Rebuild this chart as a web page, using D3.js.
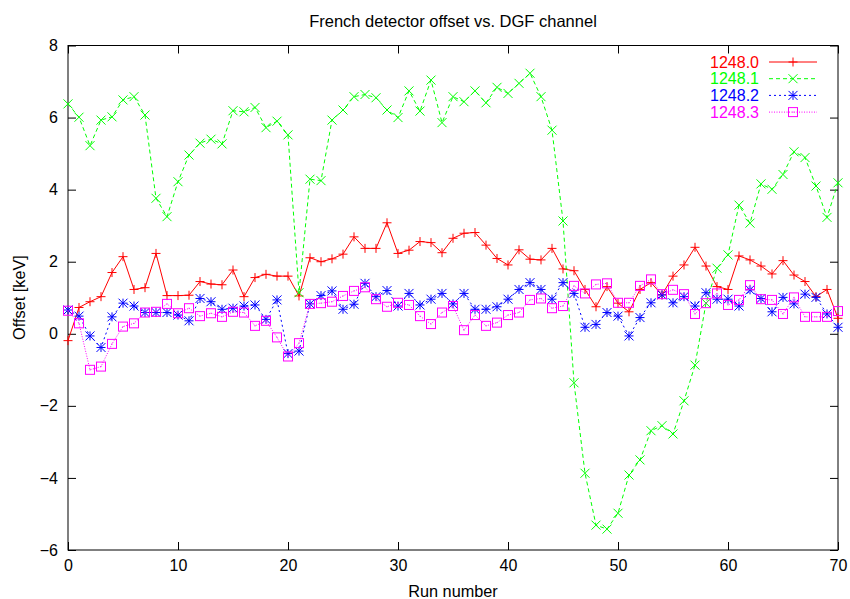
<!DOCTYPE html>
<html><head><meta charset="utf-8">
<script src="https://cdn.jsdelivr.net/npm/d3@7/dist/d3.min.js"></script>
<style>body{margin:0;background:#fff}svg{display:block}text{font-family:"Liberation Sans",Arial,Helvetica,sans-serif}</style>
</head><body>
<svg id="c" width="850" height="599"></svg>
<script>
const runs = d3.range(0, 71);
const seriesNames = ["1248.0", "1248.1", "1248.2", "1248.3"];
const s0 = [-0.19,0.73,0.89,1.03,1.70,2.14,1.23,1.28,2.23,1.06,1.06,1.07,1.45,1.38,1.36,1.77,1.03,1.56,1.65,1.60,1.60,1.05,2.11,2.00,2.08,2.21,2.69,2.37,2.37,3.08,2.23,2.32,2.56,2.53,2.25,2.65,2.79,2.81,2.46,2.09,1.91,2.33,2.07,2.05,2.37,1.80,1.75,1.23,0.75,1.31,0.85,0.61,1.23,1.42,1.08,1.60,1.91,2.40,1.88,1.31,1.23,2.16,2.05,1.88,1.66,2.03,1.63,1.45,1.03,1.23,0.43];
const s1 = [6.38,6.01,5.22,5.93,6.02,6.49,6.58,6.07,3.76,3.25,4.22,4.96,5.29,5.40,5.27,6.19,6.16,6.28,5.72,5.90,5.52,1.14,4.29,4.25,5.93,6.21,6.58,6.64,6.55,6.21,6.00,6.74,6.18,7.04,5.86,6.58,6.44,6.74,6.41,6.84,6.67,6.95,7.23,6.58,5.65,3.13,-1.36,-3.87,-5.31,-5.42,-4.98,-3.92,-3.50,-2.69,-2.55,-2.78,-1.86,-0.87,0.85,1.82,2.19,3.57,3.07,4.16,4.01,4.42,5.05,4.89,4.10,3.23,4.19];
const s2 = [0.66,0.49,-0.06,-0.38,0.47,0.85,0.77,0.59,0.59,0.59,0.52,0.36,0.98,0.89,0.68,0.71,0.77,0.80,0.40,0.94,-0.55,-0.48,0.83,1.06,1.19,0.68,0.82,1.40,1.03,1.20,0.77,1.12,0.80,0.96,1.12,0.83,1.12,0.68,0.68,0.75,0.96,1.23,1.42,1.23,0.96,1.42,1.12,0.18,0.26,0.59,0.49,-0.06,0.45,0.86,1.08,0.86,1.03,0.77,1.14,0.96,0.96,0.77,1.22,0.98,0.61,1.01,0.83,1.10,1.01,0.55,0.18];
const s3 = [0.64,0.29,-1.00,-0.91,-0.28,0.20,0.29,0.59,0.61,0.83,0.57,0.71,0.49,0.57,0.47,0.61,0.59,0.22,0.36,-0.10,-0.63,-0.26,0.83,0.85,0.89,1.05,1.19,1.29,0.96,0.75,0.86,0.80,0.49,0.27,0.59,0.77,0.10,0.52,0.22,0.31,0.52,0.59,0.94,0.98,0.71,0.77,1.33,1.12,1.37,1.40,0.86,0.86,1.33,1.51,1.10,1.22,1.10,0.55,0.85,1.12,0.80,0.94,1.35,0.96,0.94,0.55,1.01,0.47,0.47,0.47,0.63];
const xTicks = [0,10,20,30,40,50,60,70];
const yTicks = [-6,-4,-2,0,2,4,6,8];
const titleText = "French detector offset vs. DGF channel";
const xLabel = "Run number";
const yLabel = "Offset [keV]";

const colors = ["#ff0000","#00ff00","#0000ff","#ff00ff"];
const dashes = [null,"4,3","2,3","1,1.5"];
const markers = ["plus","cross","star","box"];
const all = [s0,s1,s2,s3];

const L = 68, R = 838, T = 45.5, B = 550;
const FS = 16;
const svg = d3.select("#c");
const x = d3.scaleLinear().domain([0,70]).range([L,R]);
const y = d3.scaleLinear().domain([-6,8]).range([B,T]);

svg.append("rect").attr("x",L).attr("y",T).attr("width",R-L).attr("height",B-T)
  .attr("fill","none").attr("stroke","#000").attr("stroke-width",1);

const tk = 8;
const gB = svg.append("g").attr("transform",`translate(0,${B})`)
  .call(d3.axisBottom(x).tickValues(xTicks).tickSize(-tk).tickFormat(d3.format("d")));
const gT = svg.append("g").attr("transform",`translate(0,${T})`)
  .call(d3.axisTop(x).tickValues(xTicks).tickSize(-tk).tickFormat(""));
const gL = svg.append("g").attr("transform",`translate(${L},0)`)
  .call(d3.axisLeft(y).tickValues(yTicks).tickSize(-tk).tickPadding(10).tickFormat(d3.format("d")));
const gR = svg.append("g").attr("transform",`translate(${R},0)`)
  .call(d3.axisRight(y).tickValues(yTicks).tickSize(-tk).tickFormat(""));
[gB,gT,gL,gR].forEach(g=>{
  g.select(".domain").remove();
  g.selectAll(".tick line").attr("stroke","#000");
  g.selectAll("text").attr("font-size",FS).attr("fill","#000").style("font-family",'"Liberation Sans",Arial,sans-serif');
});
gB.selectAll("text").attr("dy","0.71em").attr("y",10);

svg.append("text").attr("x",453).attr("y",26.5).attr("text-anchor","middle").attr("font-size",16.5).text(titleText);
svg.append("text").attr("x",453).attr("y",597).attr("text-anchor","middle").attr("font-size",FS+0.3).text(xLabel);
svg.append("text").attr("transform","translate(25,297.5) rotate(-90)").attr("text-anchor","middle").attr("font-size",FS+0.3).text(yLabel);

function marker(g, type, cx, cy, col){
  const s = 4.5;
  let d = "";
  if(type==="plus"||type==="star") d += `M${cx-s},${cy}H${cx+s}M${cx},${cy-s}V${cy+s}`;
  if(type==="cross"||type==="star") d += `M${cx-s},${cy-s}L${cx+s},${cy+s}M${cx-s},${cy+s}L${cx+s},${cy-s}`;
  if(type==="box"){
    g.append("rect").attr("x",cx-s).attr("y",cy-s).attr("width",2*s).attr("height",2*s)
      .attr("fill","none").attr("stroke",col).attr("stroke-width",1);
    g.append("rect").attr("x",cx-0.5).attr("y",cy-0.5).attr("width",1).attr("height",1).attr("fill",col);
    return;
  }
  g.append("path").attr("d",d).attr("stroke",col).attr("stroke-width",1).attr("fill","none");
}

const line = d3.line().x((d,i)=>x(runs[i])).y(d=>y(d));
all.forEach((vals,k)=>{
  const g = svg.append("g");
  g.append("path").datum(vals).attr("d",line).attr("fill","none").attr("stroke",colors[k])
    .attr("stroke-width",1).attr("stroke-dasharray",dashes[k]);
  vals.forEach((v,i)=>marker(g, markers[k], x(runs[i]), y(v), colors[k]));
});

seriesNames.forEach((n,k)=>{
  const yy = 62 + k*16.7;
  svg.append("text").attr("x",759).attr("y",yy).attr("dy","0.36em").attr("text-anchor","end")
    .attr("font-size",FS).attr("fill",colors[k]).text(n);
  svg.append("line").attr("x1",769).attr("x2",817).attr("y1",yy).attr("y2",yy)
    .attr("stroke",colors[k]).attr("stroke-width",1).attr("stroke-dasharray",dashes[k]);
  marker(svg.append("g"), markers[k], 793, yy, colors[k]);
});
</script>
</body></html>
